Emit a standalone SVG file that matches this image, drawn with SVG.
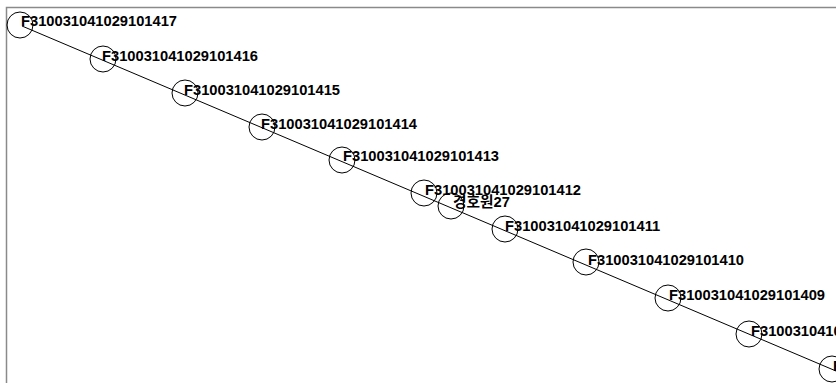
<svg xmlns="http://www.w3.org/2000/svg" width="836" height="383" viewBox="0 0 836 383">
  <style>
    .frame { stroke: #8a8a8a; stroke-width: 1.5; fill: none; }
    .edge { stroke: #000; stroke-width: 1; fill: none; }
    .node circle { stroke: #000; stroke-width: 1; fill: none; }
    .node text { font-family: "Liberation Sans", "Noto Sans CJK KR", Arial, sans-serif; font-size: 14.7px; font-weight: bold; fill: #000; }
  </style>
  <rect width="836" height="383" fill="#fff"/>
  <!-- panel frame: only the top and left edges are inside the view -->
  <path class="frame" d="M6.5 383 V7.5 H836"/>

  <g id="connectors">
    <line class="edge" x1="22" y1="26" x2="836" y2="371"/>
  </g>

  <g id="n1417" class="node"><circle cx="20" cy="25" r="13"/><text x="21" y="26">F310031041029101417</text></g>
  <g id="n1416" class="node"><circle cx="103" cy="59" r="13"/><text x="102" y="61">F310031041029101416</text></g>
  <g id="n1415" class="node"><circle cx="185" cy="93" r="13"/><text x="184" y="95">F310031041029101415</text></g>
  <g id="n1414" class="node"><circle cx="262" cy="127" r="13"/><text x="261" y="129">F310031041029101414</text></g>
  <g id="n1413" class="node"><circle cx="342" cy="160" r="13"/><text x="343" y="161">F310031041029101413</text></g>
  <g id="n1412" class="node"><circle cx="424" cy="193" r="13"/><text x="425" y="195">F310031041029101412</text></g>
  <g id="nPole27" class="node"><circle cx="451" cy="206" r="13"/><text x="453" y="207">경호원27</text></g>
  <g id="n1411" class="node"><circle cx="505" cy="229" r="13"/><text x="505" y="231">F310031041029101411</text></g>
  <g id="n1410" class="node"><circle cx="586" cy="262" r="13"/><text x="588" y="265">F310031041029101410</text></g>
  <g id="n1409" class="node"><circle cx="668" cy="298" r="13"/><text x="669" y="300">F310031041029101409</text></g>
  <g id="n1408" class="node"><circle cx="749" cy="334" r="13"/><text x="751" y="336">F310031041029101408</text></g>
  <g id="n1407" class="node"><circle cx="832" cy="369" r="13"/><text x="833" y="371">F310031041029101407</text></g>
</svg>
